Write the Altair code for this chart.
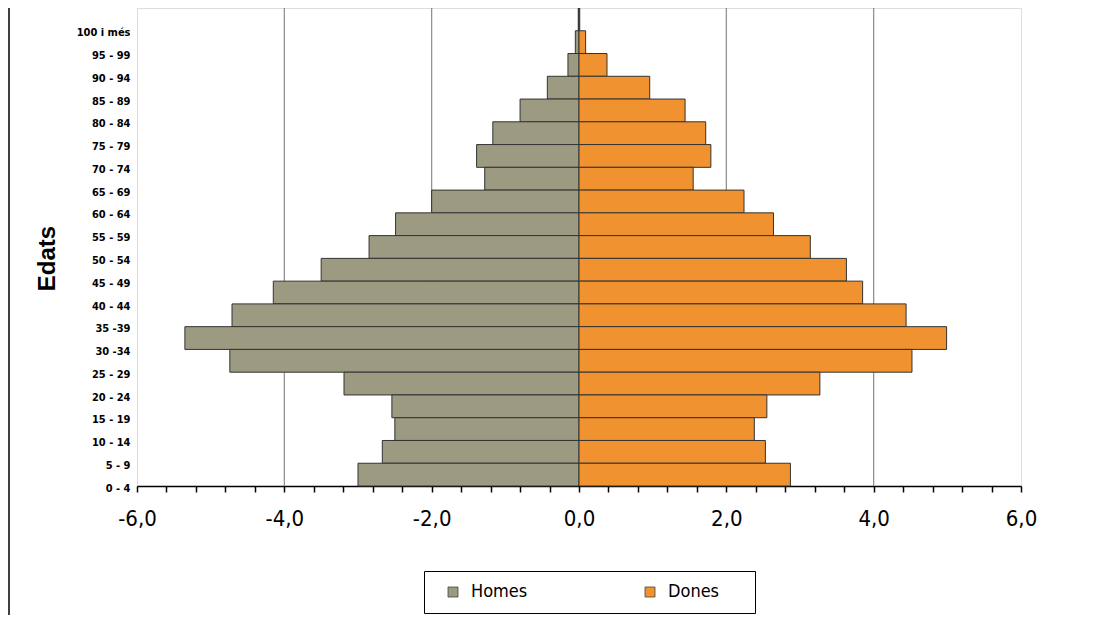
import altair as alt
import pandas as pd

ages = ["100 i més", "95 - 99", "90 - 94", "85 - 89", "80 - 84", "75 - 79", "70 - 74",
        "65 - 69", "60 - 64", "55 - 59", "50 - 54", "45 - 49", "40 - 44", "35 -39",
        "30 -34", "25 - 29", "20 - 24", "15 - 19", "10 - 14", "5 - 9", "0 - 4"]
homes = [-0.01, -0.05, -0.15, -0.43, -0.80, -1.17, -1.39, -1.28, -2.00, -2.49, -2.85,
         -3.50, -4.15, -4.71, -5.35, -4.74, -3.19, -2.54, -2.50, -2.67, -3.00]
dones = [0.01, 0.09, 0.38, 0.96, 1.44, 1.72, 1.79, 1.55, 2.24, 2.64, 3.14,
         3.63, 3.85, 4.44, 4.99, 4.52, 3.27, 2.55, 2.38, 2.53, 2.87]
series = ["Homes", "Dones"]
colors = ["#9c9a80", "#f0922f"]
grid_values = [-4, -2, 2, 4]
tick_values = [round(-6 + 0.4 * i, 1) for i in range(31)]

rows = []
for a, h, d in zip(ages, homes, dones):
    rows.append({"edat": a, "sexe": "Homes", "valor": h})
    rows.append({"edat": a, "sexe": "Dones", "valor": d})
df = pd.DataFrame(rows)

narrow = "Liberation Sans Narrow, Arial Narrow, DejaVu Sans Condensed, sans-serif"

xscale = alt.Scale(domain=[-6, 6], nice=False, zero=False)
xaxis = alt.Axis(values=tick_values, grid=False, title=None,
                 labelExpr="abs(datum.value % 2) < 0.01 ? replace(replace(format(datum.value, '.1f'), '.', ','), '\u2212', '-') : ''",
                 labelFont=narrow, labelFontSize=22, labelColor="black",
                 labelPadding=16, tickColor="black", tickSize=6, tickWidth=1.5,
                 domainColor="black", domainWidth=1.5, labelFlush=False, labelOverlap=False)

grid = alt.Chart(pd.DataFrame({"g": grid_values})).mark_rule(
    color="#8a8a8a", strokeWidth=1.2
).encode(x=alt.X("g:Q", scale=xscale, axis=xaxis))

bars = alt.Chart(df).mark_bar(stroke="#333333", strokeWidth=1).encode(
    x=alt.X("valor:Q", scale=xscale, axis=xaxis),
    y=alt.Y("edat:N", sort=ages, scale=alt.Scale(paddingInner=0, paddingOuter=0),
            axis=alt.Axis(title="Edats", ticks=False, domain=False, labelOffset=14,
                          labelFont=narrow, labelFontSize=11, labelFontWeight="bold",
                          labelColor="black", labelPadding=7,
                          titleFont="Liberation Sans, Arial, sans-serif", titleFontSize=24,
                          titleFontWeight="bold", titleColor="black", titleX=-78, titleY=250)),
    color=alt.Color("sexe:N", scale=alt.Scale(domain=series, range=colors),
                    legend=alt.Legend(title=None, orient="none", direction="horizontal",
                                      legendX=287, legendY=563, fillColor="white",
                                      strokeColor="black", padding=12, columnPadding=105,
                                      symbolType="square", symbolSize=100,
                                      symbolStrokeColor="#444444", symbolStrokeWidth=0.8,
                                      labelFont=narrow, labelFontSize=18, labelColor="black",
                                      labelExpr="datum.label == 'Dones' ? datum.label + '\u2800\u2800' : datum.label",
                                      labelOffset=9, symbolOffset=8)),
)

frame = alt.Chart(pd.DataFrame({"a": [0]})).mark_rule(color="black", strokeWidth=1.5).encode(
    x=alt.value(-128), y=alt.value(-10), y2=alt.value(620)
)

chart = alt.layer(grid, bars, frame).properties(
    width=884, height=478,
    autosize=alt.AutoSizeParams(type="none"),
    padding={"left": 129, "top": 0, "right": 85, "bottom": 129},
).configure_view(fill="#ebe7e0", stroke=None).configure(background="white")

chart.save("out.html", embed_options={"renderer": "svg", "actions": False})
